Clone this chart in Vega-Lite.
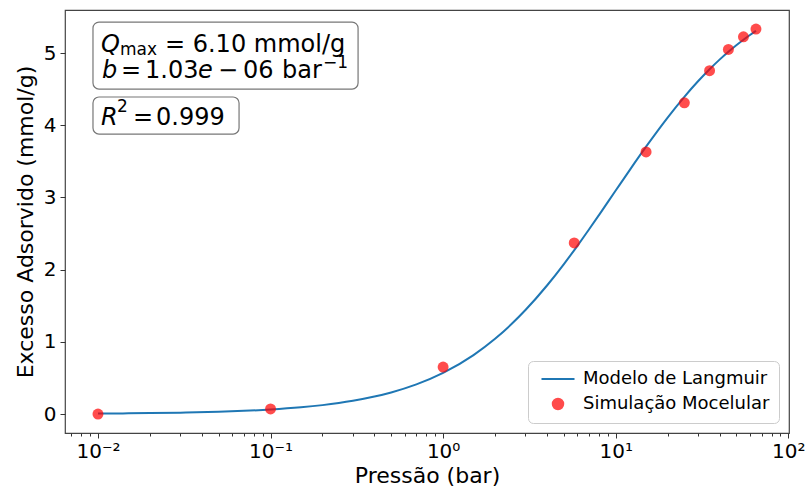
{
  "$schema": "https://vega.github.io/schema/vega-lite/v6.json",
  "width": 724,
  "height": 423,
  "autosize": {"type": "none"},
  "padding": {"left": 65, "top": 10, "right": 22, "bottom": 62},
  "background": "white",
  "title": {"text": "Metano", "fontSize": 24, "fontWeight": "normal", "font": "DejaVu Sans", "color": "#000", "baseline": "alphabetic", "offset": 5},
  "datasets": {
    "curve": [
      {"series": "Modelo de Langmuir", "P": 0.01, "q": 0.0063},
      {"series": "Modelo de Langmuir", "P": 0.015, "q": 0.0094},
      {"series": "Modelo de Langmuir", "P": 0.02, "q": 0.0125},
      {"series": "Modelo de Langmuir", "P": 0.03, "q": 0.0188},
      {"series": "Modelo de Langmuir", "P": 0.05, "q": 0.0313},
      {"series": "Modelo de Langmuir", "P": 0.07, "q": 0.0437},
      {"series": "Modelo de Langmuir", "P": 0.1, "q": 0.0622},
      {"series": "Modelo de Langmuir", "P": 0.15, "q": 0.0928},
      {"series": "Modelo de Langmuir", "P": 0.2, "q": 0.1231},
      {"series": "Modelo de Langmuir", "P": 0.3, "q": 0.1828},
      {"series": "Modelo de Langmuir", "P": 0.4, "q": 0.2414},
      {"series": "Modelo de Langmuir", "P": 0.5, "q": 0.2988},
      {"series": "Modelo de Langmuir", "P": 0.7, "q": 0.4102},
      {"series": "Modelo de Langmuir", "P": 1, "q": 0.5696},
      {"series": "Modelo de Langmuir", "P": 1.5, "q": 0.8163},
      {"series": "Modelo de Langmuir", "P": 2, "q": 1.0419},
      {"series": "Modelo de Langmuir", "P": 2.5, "q": 1.2491},
      {"series": "Modelo de Langmuir", "P": 3, "q": 1.44},
      {"series": "Modelo de Langmuir", "P": 4, "q": 1.7799},
      {"series": "Modelo de Langmuir", "P": 5, "q": 2.0736},
      {"series": "Modelo de Langmuir", "P": 6, "q": 2.33},
      {"series": "Modelo de Langmuir", "P": 7, "q": 2.5555},
      {"series": "Modelo de Langmuir", "P": 8, "q": 2.7557},
      {"series": "Modelo de Langmuir", "P": 10, "q": 3.0951},
      {"series": "Modelo de Langmuir", "P": 12, "q": 3.372},
      {"series": "Modelo de Langmuir", "P": 15, "q": 3.703},
      {"series": "Modelo de Langmuir", "P": 20, "q": 4.1065},
      {"series": "Modelo de Langmuir", "P": 25, "q": 4.3937},
      {"series": "Modelo de Langmuir", "P": 30, "q": 4.6086},
      {"series": "Modelo de Langmuir", "P": 35, "q": 4.7755},
      {"series": "Modelo de Langmuir", "P": 40, "q": 4.9086},
      {"series": "Modelo de Langmuir", "P": 45, "q": 5.0175},
      {"series": "Modelo de Langmuir", "P": 50, "q": 5.1081},
      {"series": "Modelo de Langmuir", "P": 55, "q": 5.1847},
      {"series": "Modelo de Langmuir", "P": 60, "q": 5.2503},
      {"series": "Modelo de Langmuir", "P": 65, "q": 5.3073}
    ],
    "points": [
      {"series": "Simulação Mocelular", "P": 0.01, "q": 0.0},
      {"series": "Simulação Mocelular", "P": 0.1, "q": 0.07},
      {"series": "Simulação Mocelular", "P": 1, "q": 0.65},
      {"series": "Simulação Mocelular", "P": 5.75, "q": 2.37},
      {"series": "Simulação Mocelular", "P": 15, "q": 3.63},
      {"series": "Simulação Mocelular", "P": 25, "q": 4.31},
      {"series": "Simulação Mocelular", "P": 35, "q": 4.755},
      {"series": "Simulação Mocelular", "P": 45, "q": 5.05},
      {"series": "Simulação Mocelular", "P": 55, "q": 5.225},
      {"series": "Simulação Mocelular", "P": 65, "q": 5.332}
    ]
  },
  "config": {
    "font": "DejaVu Sans",
    "view": {"stroke": "#444", "strokeWidth": 1.2},
    "axis": {"domain": false, "grid": false, "tickColor": "#333", "labelColor": "#000", "titleColor": "#000", "labelFont": "DejaVu Sans", "titleFont": "DejaVu Sans", "labelFontSize": 20, "titleFontSize": 22, "titleFontWeight": "normal"},
    "text": {"font": "DejaVu Sans", "color": "#000"}
  },
  "layer": [
    {
      "data": {"name": "curve"},
      "mark": {"type": "line", "strokeWidth": 2, "interpolate": "monotone"},
      "encoding": {
        "x": {
          "field": "P", "type": "quantitative",
          "scale": {"type": "log", "domain": [0.00644, 101], "nice": false},
          "axis": {
            "title": "Pressão (bar)",
            "values": [0.007, 0.008, 0.009, 0.01, 0.02, 0.03, 0.04, 0.05, 0.06, 0.07, 0.08, 0.09, 0.1, 0.2, 0.3, 0.4, 0.5, 0.6, 0.7, 0.8, 0.9, 1, 2, 3, 4, 5, 6, 7, 8, 9, 10, 20, 30, 40, 50, 60, 70, 80, 90, 100],
            "labelExpr": "datum.value == 0.01 ? '10⁻²' : datum.value == 0.1 ? '10⁻¹' : datum.value == 1 ? '10⁰' : datum.value == 10 ? '10¹' : datum.value == 100 ? '10²' : ''",
            "tickSize": {"condition": {"test": "datum.value == 0.01 || datum.value == 0.1 || datum.value == 1 || datum.value == 10 || datum.value == 100", "value": 5}, "value": 3},
            "labelPadding": 3,
            "labelOverlap": false,
            "labelFlush": false,
            "titlePadding": 4
          }
        },
        "y": {
          "field": "q", "type": "quantitative",
          "scale": {"domain": [-0.263, 5.596], "nice": false, "zero": false},
          "axis": {"title": "Excesso Adsorvido (mmol/g)", "values": [0, 1, 2, 3, 4, 5], "format": ".0f", "tickSize": 5, "labelPadding": 4, "labelFlush": false, "titlePadding": 6}
        },
        "color": {
          "field": "series", "type": "nominal",
          "scale": {"domain": ["Modelo de Langmuir", "Simulação Mocelular"], "range": ["#1f77b4", "#ff0000"]},
          "legend": {
            "title": null, "orient": "bottom-right", "offset": 10, "padding": 9,
            "fillColor": "white", "strokeColor": "#ccc", "cornerRadius": 5,
            "labelFontSize": 18, "labelFont": "DejaVu Sans", "labelColor": "#000", "labelLimit": 400,
            "rowPadding": 6, "labelOffset": 16, "symbolOffset": 12, "symbolSize": 110,
            "encode": {"symbols": {"update": {
              "stroke": {"signal": "datum.value === 'Modelo de Langmuir' ? '#1f77b4' : null"},
              "strokeWidth": {"value": 2},
              "opacity": {"signal": "datum.value === 'Modelo de Langmuir' ? 1 : 0.7"},
              "size": {"signal": "datum.value === 'Modelo de Langmuir' ? 1090 : 110"}
            }}}
          }
        }
      }
    },
    {
      "data": {"name": "points"},
      "mark": {"type": "point", "filled": true, "opacity": 0.7, "size": 120},
      "encoding": {
        "x": {"field": "P", "type": "quantitative"},
        "y": {"field": "q", "type": "quantitative"},
        "color": {"field": "series", "type": "nominal"},
        "shape": {
          "field": "series", "type": "nominal",
          "scale": {"domain": ["Modelo de Langmuir", "Simulação Mocelular"], "range": ["stroke", "circle"]}
        }
      }
    },
    {
      "data": {"values": [{}]},
      "mark": {"type": "rect", "fill": "white", "stroke": "#777", "strokeWidth": 1.2, "cornerRadius": 6},
      "encoding": {
        "x": {"datum": 0.009355, "type": "quantitative"},
        "x2": {"datum": 0.3215},
        "y": {"datum": 5.429, "type": "quantitative"},
        "y2": {"datum": 4.501}
      }
    },
    {
      "data": {"values": [{}]},
      "mark": {"type": "rect", "fill": "white", "stroke": "#777", "strokeWidth": 1.2, "cornerRadius": 6},
      "encoding": {
        "x": {"datum": 0.009355, "type": "quantitative"},
        "x2": {"datum": 0.06569},
        "y": {"datum": 4.391, "type": "quantitative"},
        "y2": {"datum": 3.878}
      }
    },
    {
      "data": {"values": [{}]},
      "encoding": {
        "x": {"datum": 0.01, "type": "quantitative"},
        "y": {"datum": 5, "type": "quantitative"}
      },
      "layer": [
        {"mark": {"type": "text", "text": "Q", "fontStyle": "italic", "fontSize": 24, "align": "left", "baseline": "alphabetic", "dx": 3, "dy": -1}},
        {"mark": {"type": "text", "text": "max", "fontSize": 17, "align": "left", "baseline": "alphabetic", "dx": 22, "dy": 2}},
        {"mark": {"type": "text", "text": "= 6.10 mmol/g", "fontSize": 24, "align": "left", "baseline": "alphabetic", "dx": 67, "dy": -1}},
        {"mark": {"type": "text", "text": "b", "fontStyle": "italic", "fontSize": 24, "align": "left", "baseline": "alphabetic", "dx": 4, "dy": 25}},
        {"mark": {"type": "text", "text": "=", "fontSize": 24, "align": "left", "baseline": "alphabetic", "dx": 23, "dy": 25}},
        {"mark": {"type": "text", "text": "1.03", "fontSize": 24, "align": "left", "baseline": "alphabetic", "dx": 47, "dy": 25}},
        {"mark": {"type": "text", "text": "e", "fontStyle": "italic", "fontSize": 24, "align": "left", "baseline": "alphabetic", "dx": 100, "dy": 25}},
        {"mark": {"type": "text", "text": "−", "fontSize": 24, "align": "left", "baseline": "alphabetic", "dx": 120, "dy": 25}},
        {"mark": {"type": "text", "text": "06", "fontSize": 24, "align": "left", "baseline": "alphabetic", "dx": 145, "dy": 25}},
        {"mark": {"type": "text", "text": "bar", "fontSize": 24, "align": "left", "baseline": "alphabetic", "dx": 184, "dy": 25}},
        {"mark": {"type": "text", "text": "−1", "fontSize": 17, "align": "left", "baseline": "alphabetic", "dx": 225, "dy": 15}},
        {"mark": {"type": "text", "text": "R", "fontStyle": "italic", "fontSize": 24, "align": "left", "baseline": "alphabetic", "dx": 3, "dy": 72}},
        {"mark": {"type": "text", "text": "2", "fontSize": 17, "align": "left", "baseline": "alphabetic", "dx": 19, "dy": 59}},
        {"mark": {"type": "text", "text": "=", "fontSize": 24, "align": "left", "baseline": "alphabetic", "dx": 35, "dy": 72}},
        {"mark": {"type": "text", "text": "0.999", "fontSize": 24, "align": "left", "baseline": "alphabetic", "dx": 58, "dy": 72}}
      ]
    }
  ]
}
